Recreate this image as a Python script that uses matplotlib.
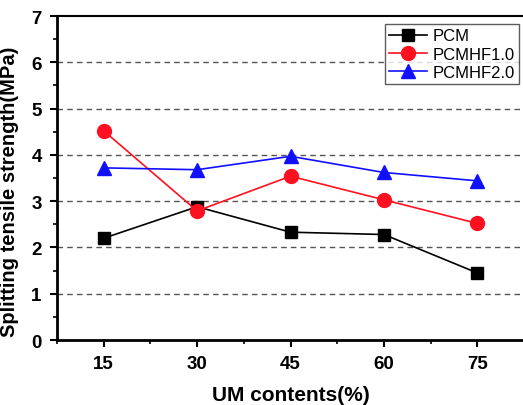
import matplotlib
matplotlib.use("Agg")
import matplotlib.pyplot as plt
from matplotlib.ticker import MultipleLocator

plt.rcParams['font.family'] = ['Liberation Sans', 'DejaVu Sans']

um = [15, 30, 45, 60, 75]
pcm = [2.20, 2.88, 2.33, 2.28, 1.45]
pcmhf10 = [4.52, 2.79, 3.54, 3.03, 2.52]
pcmhf20 = [3.72, 3.68, 3.97, 3.62, 3.44]
xticks = [15, 30, 45, 60, 75]
yticks = [0, 1, 2, 3, 4, 5, 6, 7]

fig = plt.figure(figsize=(5.23, 4.06), dpi=100)
ax = fig.add_axes([0.109, 0.160, 0.893, 0.798])

ax.plot(um, pcm, color='black', marker='s', markersize=9, lw=1.2, label='PCM')
ax.plot(um, pcmhf10, color='#ff1020', marker='o', markersize=10, lw=1.2, label='PCMHF1.0')
ax.plot(um, pcmhf20, color='#1010ff', marker='^', markersize=10, lw=1.2, label='PCMHF2.0')

for y in [1, 2, 3, 4, 5, 6]:
    ax.axhline(y, color='#555555', ls=(0, (4, 3)), lw=1.0, zorder=0)

ax.set_xlim(7.5, 82.5)
ax.set_ylim(0, 7)
ax.set_xticks(xticks)
ax.set_yticks(yticks)
ax.xaxis.set_minor_locator(MultipleLocator(7.5))
ax.yaxis.set_minor_locator(MultipleLocator(0.5))
ax.tick_params(which='major', direction='out', length=5, width=1.5, labelsize=13.5)
ax.tick_params(which='minor', direction='out', length=3, width=1.2)
ax.tick_params(axis='y', which='major', pad=6)
ax.tick_params(axis='x', which='major', pad=6)
ax.tick_params(top=False, right=False, which='both')
for lab in ax.get_xticklabels() + ax.get_yticklabels():
    lab.set_fontweight('bold')

for s in ['left', 'bottom']:
    ax.spines[s].set_linewidth(2.0)
ax.spines['top'].set_linewidth(1.5)
ax.spines['right'].set_visible(False)

ax.set_xlabel('UM contents(%)', fontsize=15, fontweight='bold', va='center')
ax.xaxis.set_label_coords(0.5, -0.167)
ax.set_ylabel('Splitting tensile strength(MPa)', fontsize=14.5, fontweight='bold', va='center')
ax.yaxis.set_label_coords(-0.101, 0.46)

leg = ax.legend(loc='upper right', bbox_to_anchor=(0.997, 0.985), fontsize=12,
                frameon=True, fancybox=False, edgecolor='#333333', handlelength=2.3,
                borderpad=0.25, labelspacing=0.2, handletextpad=0.35, borderaxespad=0.2)
leg.get_frame().set_linewidth(1.0)

fig.savefig('out.png', dpi=100)
